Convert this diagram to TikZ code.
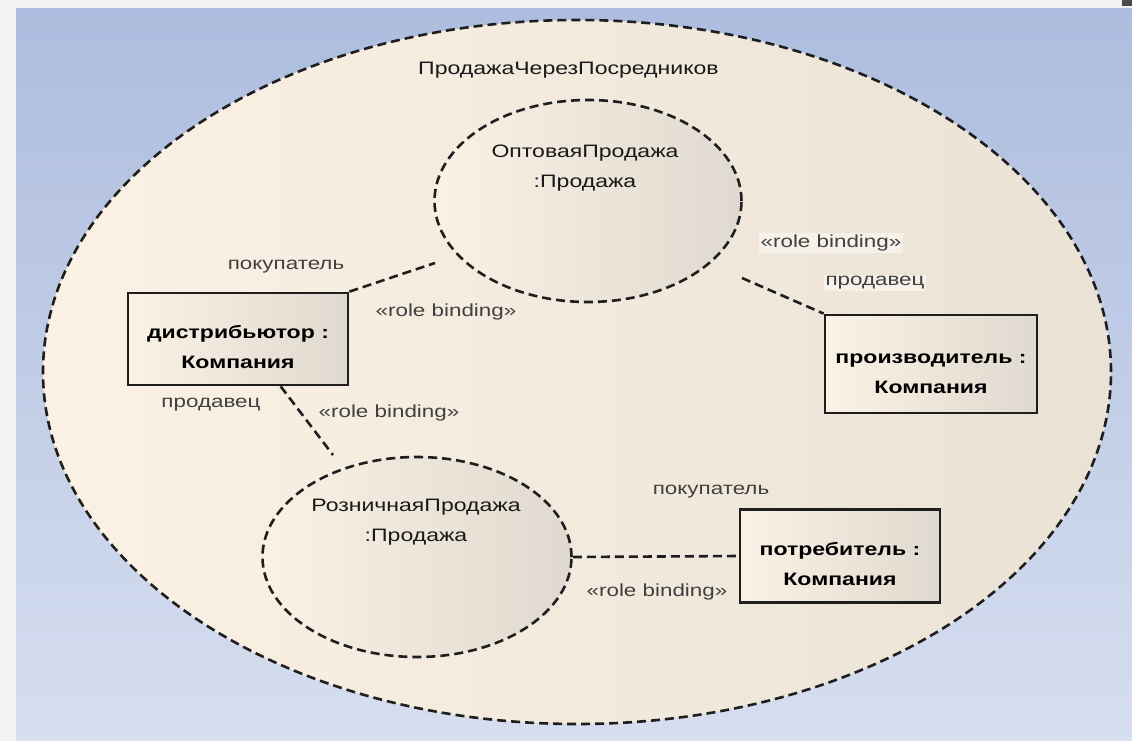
\documentclass[tikz,border=0pt]{standalone}
\usepackage{fontspec}
\setmainfont{Liberation Sans}
\definecolor{bgtop}{RGB}{173,189,223}
\definecolor{bgbottom}{RGB}{214,222,239}
\definecolor{creamleft}{RGB}{251,242,229}
\definecolor{creamright}{RGB}{234,226,213}
\definecolor{greyright}{RGB}{224,217,207}
\definecolor{inkline}{RGB}{30,30,30}
\definecolor{labelgrey}{RGB}{64,64,64}
\definecolor{hilite}{RGB}{246,241,233}
\usetikzlibrary{shapes.geometric, positioning, calc}
\newcommand{\wt}[1]{\scalebox{1.28}[1]{#1}}
\newcommand{\lowline}{\rule{0pt}{29pt}}

\begin{document}
\begin{tikzpicture}[x=1pt, y=-1pt,
    bind/.style={draw=inkline, line width=2.6pt, dash pattern=on 9pt off 5pt},
    roleell/.style={ellipse, bind, left color=creamleft, right color=greyright, inner sep=0pt},
    partbox/.style={rectangle, draw=inkline, line width=2.8pt, left color=creamleft, right color=greyright, align=center, inner sep=0pt, font=\fontsize{18}{30}\selectfont\bfseries},
    rolename/.style={align=center, inner sep=0pt, text=black!90, font=\fontsize{18}{30}\selectfont},
    rolelbl/.style={inner sep=1.5pt, text=labelgrey, font=\fontsize{17.5}{21}\selectfont}]
        \useasboundingbox (0,0) rectangle (1132,741);
        \fill[black!5] (0,0) rectangle (1132,741);
        \shade[top color=bgtop, bottom color=bgbottom] (16,9) rectangle (1132,741);
        \fill[black!70] (1122,0) rectangle (1132,6);

        \node[roleell, minimum width=1068, minimum height=704, left color=creamleft, right color=creamright] (deal) at (577,372) {};
        \node[rolename, anchor=west] (dealname) at (418,70) {\wt{ПродажаЧерезПосредников}};

        \node[roleell, minimum width=307, minimum height=202] (wholesale) at (588,201) {};
        \node[rolename] (wsname) at (585,168) {\wt{ОптоваяПродажа}\\\wt{:Продажа}};
        \node[roleell, minimum width=309, minimum height=200] (retail) at (417,557) {};
        \node[rolename] (rtname) at (416,522) {\wt{РозничнаяПродажа}\\\wt{:Продажа}};

        \node[partbox, minimum width=220, minimum height=92] (distr) at (238,339) {\lowline\wt{дистрибьютор :}\\\wt{Компания}};
        \node[partbox, minimum width=212, minimum height=98] (maker) at (931,364) {\lowline\wt{производитель :}\\\wt{Компания}};
        \node[partbox, minimum width=200, minimum height=93] (consumer) at (840,556) {\lowline\wt{потребитель :}\\\wt{Компания}};

        \coordinate (wsin) at (435,263);
        \coordinate (wsout) at (742,278);
        \coordinate (rtin) at (333,455);
        \draw[bind] (distr.north east) -- (wsin);
        \draw[bind] (wsout) -- (maker.north west);
        \draw[bind] (distr.-48) -- (rtin);
        \draw[bind] (retail.east) -- (consumer.west);

        \node[rolelbl] (buyerup) at (286,267) {\wt{покупатель}};
        \node[rolelbl] (bindup) at (446,312) {\wt{«role binding»}};
        \node[rolelbl, fill=hilite] (bindright) at (831,243) {\wt{«role binding»}};
        \node[rolelbl, fill=hilite] (sellerright) at (875,283) {\wt{продавец}};
        \node[rolelbl] (sellerleft) at (211,405) {\wt{продавец}};
        \node[rolelbl] (bindmid) at (389,413) {\wt{«role binding»}};
        \node[rolelbl] (buyerdown) at (711,492) {\wt{покупатель}};
        \node[rolelbl] (binddown) at (657,592) {\wt{«role binding»}};
    \end{tikzpicture}
\end{document}
